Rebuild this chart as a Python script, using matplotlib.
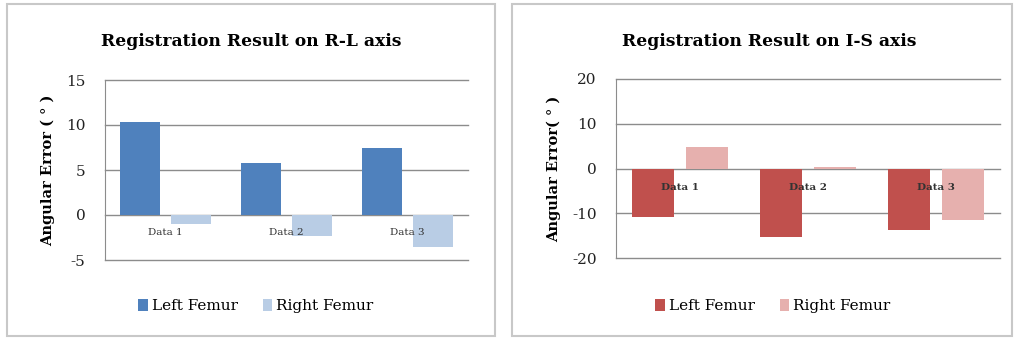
import matplotlib.pyplot as plt
import numpy as np
from matplotlib.patches import Rectangle

categories = ["Data 1", "Data 2", "Data 3"]
series_names = ["Left Femur", "Right Femur"]

rl_left = [10.3, 5.8, 7.4]
rl_right = [-1.0, -2.3, -3.5]

is_left = [-10.9, -15.3, -13.8]
is_right = [4.7, 0.4, -11.5]

plt.rcParams["font.family"] = ["DejaVu Serif"]
plt.rcParams["axes.unicode_minus"] = False

W, H = 1014, 338
fig = plt.figure(figsize=(W / 100, H / 100), dpi=100)

# panel borders
for x0, x1 in [(7, 495), (512, 1012)]:
    fig.patches.append(Rectangle((x0 / W, 2 / H), (x1 - x0) / W, 332 / H,
                                 transform=fig.transFigure, fill=False,
                                 edgecolor="#c8c8c8", linewidth=1.5))


def panel(rect, left, right, colors, title, title_x, ylabel, ylim, step,
          label_y, label_bold, legend_x):
    ax = fig.add_axes(rect)
    x = np.arange(len(categories))
    w = 0.33
    ax.bar(x - 0.21, left, w, color=colors[0], label=series_names[0], zorder=2)
    ax.bar(x + 0.21, right, w, color=colors[1], label=series_names[1], zorder=2)
    ax.set_xlim(-0.5, len(categories) - 0.5)
    ax.set_ylim(*ylim)
    ax.set_yticks(np.arange(ylim[0], ylim[1] + 1, step))
    ax.yaxis.grid(True, color="#8c8c8c", linewidth=1.0, zorder=0)
    for gl in ax.get_ygridlines():
        gl.set_clip_on(False)
    ax.set_xticks([])
    for s in ["top", "right", "bottom"]:
        ax.spines[s].set_visible(False)
    ax.spines["left"].set_color("#8c8c8c")
    ax.tick_params(axis="y", length=0, labelsize=11, pad=14, labelcolor="#222222")
    for xi, c in zip(x, categories):
        ax.text(xi, label_y, c, ha="center", va="center", fontsize=7.5,
                fontweight="bold" if label_bold else "normal", color="#333333", zorder=3)
    fig.text(title_x / W, 1 - 41 / H, title, ha="center", va="center",
             fontsize=12.3, fontweight="bold")
    ax.set_ylabel(ylabel, fontsize=10.5, fontweight="bold", labelpad=8)
    fig.legend(*ax.get_legend_handles_labels(), loc="center",
               bbox_to_anchor=(legend_x / W, 1 - 306 / H), ncol=2, frameon=False,
               fontsize=11, handlelength=0.6, handleheight=0.9, handletextpad=0.3,
               columnspacing=1.6)
    return ax


panel([105 / W, 1 - 260 / H, 363 / W, 180 / H], rl_left, rl_right,
      ["#4f81bd", "#b9cde5"], "Registration Result on R-L axis", 251,
      "Angular Error ( ° )", (-5, 15), 5, -1.9, False, 256)
panel([616 / W, 1 - 258 / H, 384 / W, 179 / H], is_left, is_right,
      ["#c0504d", "#e6b0ae"], "Registration Result on I-S axis", 769,
      "Angular Error( ° )", (-20, 20), 10, -4.2, True, 773)

fig.savefig("out.png", dpi=100)
